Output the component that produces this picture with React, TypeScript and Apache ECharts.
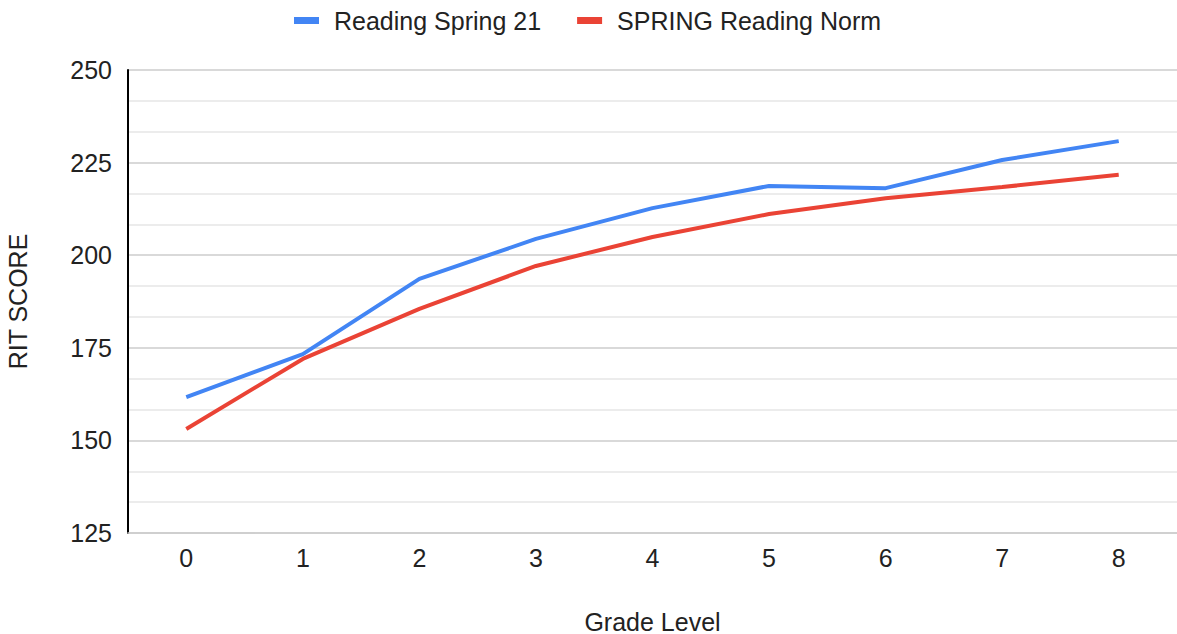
import React, { useEffect, useRef } from "react";
import * as echarts from "echarts";

const grades = ["0", "1", "2", "3", "4", "5", "6", "7", "8"];
const readingSpring21 = [161.7, 173.3, 193.6, 204.4, 212.7, 218.7, 218.1, 225.7, 230.8];
const springNorm = [153.1, 172.0, 185.5, 197.1, 204.9, 211.1, 215.4, 218.4, 221.7];
const seriesNames = ["Reading Spring 21", "SPRING Reading Norm"];
const colors = ["#4285F4", "#EA4335"];

export default function App() {
  const ref = useRef<HTMLDivElement>(null);
  useEffect(() => {
    const chart = echarts.init(ref.current!, null, { renderer: "svg" });
    const font = "'Liberation Sans', Arial, sans-serif";
    chart.setOption({
      animation: false,
      textStyle: { fontFamily: font },
      color: colors,
      legend: {
        top: 3,
        left: 289,
        itemWidth: 25,
        itemHeight: 7,
        itemGap: 36,
        icon: "rect",
        textStyle: { fontSize: 25, color: "#222", fontFamily: font, padding: [0, 0, 0, 10] },
        data: seriesNames,
      },
      grid: { left: 128, right: 0, top: 70, bottom: 101, containLabel: false, outerBoundsMode: "none" },
      xAxis: {
        type: "category",
        data: grades,
        boundaryGap: true,
        name: "Grade Level",
        nameLocation: "middle",
        nameGap: 76,
        nameTextStyle: { fontSize: 25, color: "#222", fontFamily: font },
        axisTick: { show: false },
        axisLine: { show: true, lineStyle: { color: "#ccc", width: 1.5 } },
        axisLabel: { fontSize: 25, color: "#222", margin: 12, fontFamily: font },
      },
      yAxis: {
        type: "value",
        min: 125,
        max: 250,
        interval: 25,
        name: "RIT SCORE",
        nameLocation: "middle",
        nameGap: 98,
        nameRotate: 90,
        nameTextStyle: { fontSize: 25, color: "#222", fontFamily: font },
        axisLine: { show: true, lineStyle: { color: "#000", width: 2 } },
        axisTick: { show: false },
        axisLabel: { fontSize: 25, color: "#222", margin: 16, fontFamily: font },
        splitLine: { show: true, lineStyle: { color: "#ccc", width: 1.5 } },
        minorTick: { show: false, splitNumber: 3 },
        minorSplitLine: { show: true, lineStyle: { color: "#e6e6e6", width: 1.5 } },
      },
      series: [
        {
          name: seriesNames[0],
          type: "line",
          data: readingSpring21,
          symbol: "none",
          lineStyle: { width: 4, color: colors[0] },
        },
        {
          name: seriesNames[1],
          type: "line",
          data: springNorm,
          symbol: "none",
          lineStyle: { width: 4, color: colors[1] },
        },
      ],
    });
    return () => chart.dispose();
  }, []);
  return (
    <div
      ref={ref}
      style={{ position: "fixed", left: 0, top: 0, width: 1177, height: 634, background: "#fff" }}
    />
  );
}
